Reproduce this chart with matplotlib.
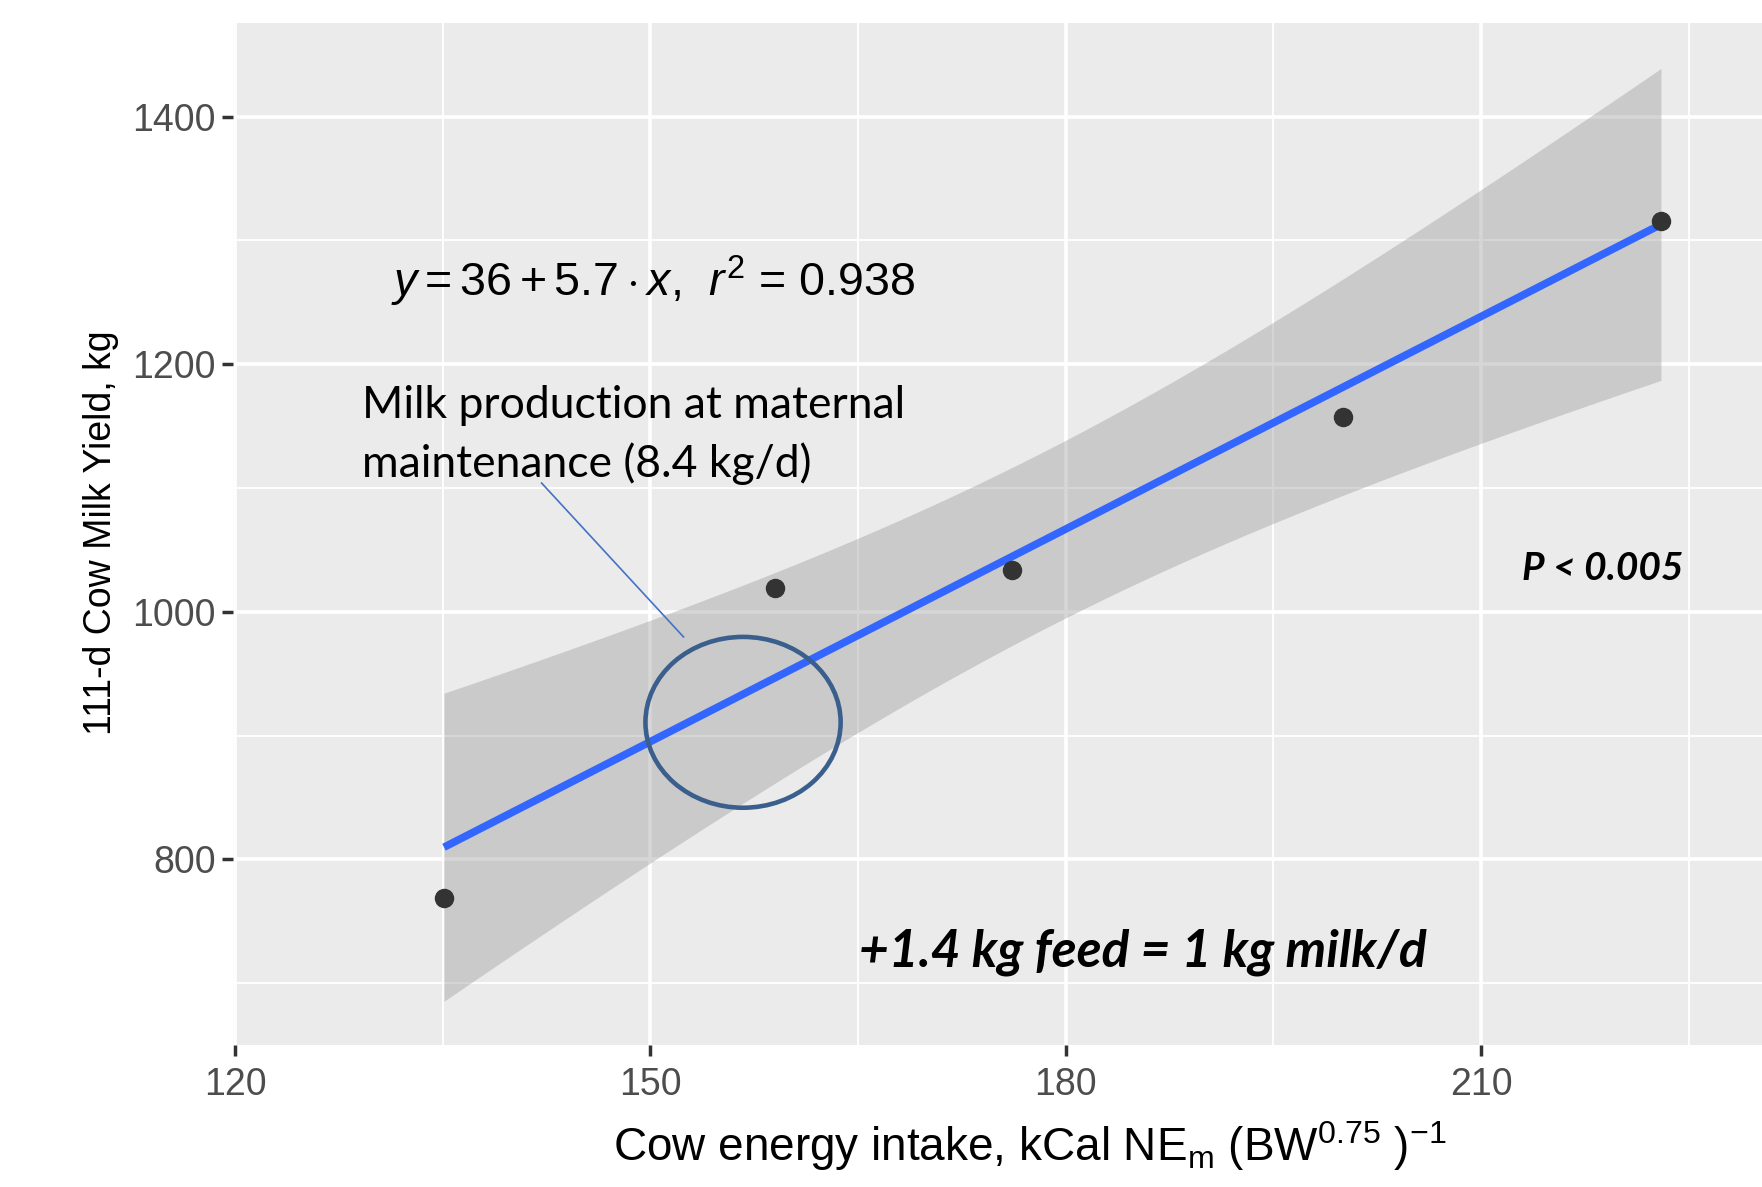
import numpy as np
import matplotlib
matplotlib.use("Agg")
import matplotlib.pyplot as plt
from matplotlib.patches import Ellipse

# data
energy_intake = np.array([135.1, 159.0, 176.1, 200.0, 223.0])
milk_yield = np.array([769, 1019, 1034, 1157, 1316])

x_ticks = [120, 150, 180, 210]
y_ticks = [800, 1000, 1200, 1400]

plt.rcParams['mathtext.fontset'] = 'custom'
plt.rcParams['mathtext.rm'] = 'Liberation Sans'
plt.rcParams['mathtext.it'] = 'Liberation Sans:italic'
plt.rcParams['font.family'] = 'Liberation Sans'

# linear fit with 95% confidence band (like geom_smooth(method="lm"))
n = len(energy_intake)
slope, intercept = np.polyfit(energy_intake, milk_yield, 1)
xs = np.linspace(energy_intake.min(), energy_intake.max(), 100)
fit = intercept + slope * xs
resid = milk_yield - (intercept + slope * energy_intake)
s = np.sqrt(np.sum(resid**2) / (n - 2))
sxx = np.sum((energy_intake - energy_intake.mean())**2)
se = s * np.sqrt(1.0 / n + (xs - energy_intake.mean())**2 / sxx)
t_crit = 3.182  # t(0.975, df=3)

fig = plt.figure(figsize=(17.62, 11.87), dpi=100)
ax = fig.add_axes([0.132, 0.1196, 0.868, 0.8614])
ax.set_facecolor('#EBEBEB')

ax.set_xticks(x_ticks)
ax.set_yticks(y_ticks)
ax.set_xticks([135, 165, 195, 225], minor=True)
ax.set_yticks([700, 900, 1100, 1300], minor=True)
ax.grid(True, which='major', color='white', lw=2.6)
ax.grid(True, which='minor', color='white', lw=1.3)
ax.set_axisbelow(True)
for sp in ax.spines.values():
    sp.set_visible(False)

ax.fill_between(xs, fit - t_crit * se, fit + t_crit * se, color='#999999', alpha=0.4, lw=0, zorder=2)
ax.plot(xs, fit, color='#3366FF', lw=5.5, zorder=3, solid_capstyle='butt')
ax.plot(energy_intake, milk_yield, 'o', color='#333333', ms=13, zorder=4)

ax.set_xlim(119.83, 230.3)
ax.set_ylim(650, 1476)

ax.tick_params(axis='both', which='major', labelsize=27, labelcolor='#4D4D4D',
               color='#333333', length=8, width=2.5)
ax.tick_params(axis='x', pad=8)
ax.tick_params(axis='y', pad=4)
ax.tick_params(which='minor', length=0)

fig.text(0.0574, 0.551, '111-d Cow Milk Yield, kg', rotation=90, fontsize=27,
         ha='center', va='center', color='black')
fig.text(0.5845, 0.0345, r'Cow energy intake, kCal NE$_\mathrm{m}$ (BW$^{0.75}$ )$^{-1}$',
         fontsize=33, ha='center', va='center', color='black')

# annotations
ax.text(131.3, 1267, r'$y = 36 + 5.7 \cdot x$,  $r^2$ = 0.938', fontsize=33.5,
        ha='left', va='center', color='black')
ax.text(129.2, 1183, 'Milk production at maternal\nmaintenance (8.4 kg/d)',
        family='Lato', fontsize=32, ha='left', va='top', linespacing=1.45, color='black')
ax.plot([142.15, 152.4], [1104, 979.7], color='#4472C4', lw=1.2, zorder=5)
ax.add_patch(Ellipse((156.7, 910.7), 14.1, 138, fill=False, edgecolor='#3B5F8C', lw=3.3, zorder=5))
ax.text(165.1, 725, '+1.4 kg feed = 1 kg milk/d', family='Lato', fontsize=37,
        fontweight='bold', fontstyle='italic', ha='left', va='center')
ax.text(224.6, 1035, 'P < 0.005', family='Lato', fontsize=28,
        fontweight='bold', fontstyle='italic', ha='right', va='center')

plt.savefig('out.png', dpi=100)
